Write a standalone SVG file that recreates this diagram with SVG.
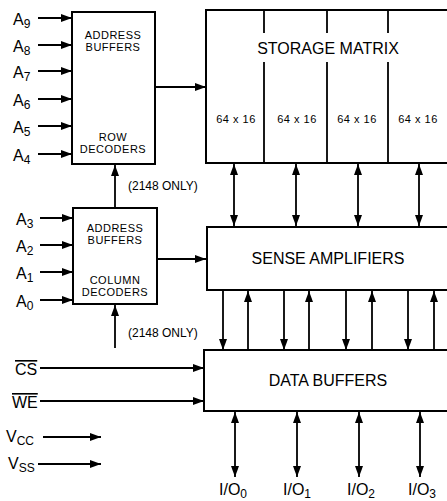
<svg xmlns="http://www.w3.org/2000/svg" width="447" height="501" viewBox="0 0 447 501">
<defs>
<marker id="ah" viewBox="0 0 11 8" refX="11" refY="4" markerWidth="11" markerHeight="8" markerUnits="userSpaceOnUse" orient="auto-start-reverse">
<path d="M0,0 L11,4 L0,8 Z" fill="#000"/>
</marker>
</defs>
<style>
.box{fill:#fff;stroke:#000;stroke-width:2}
.ln{stroke:#000;stroke-width:1.8;fill:none}
.a{marker-end:url(#ah)}
.b{marker-start:url(#ah);marker-end:url(#ah)}
text{font-family:"Liberation Sans",Arial,sans-serif;fill:#000}
.s{font-size:11px;letter-spacing:0.5px;text-anchor:middle}
.t{font-size:16px;text-anchor:middle}
.lab{font-size:16px}
.sub{font-size:12px}
</style>
<rect width="447" height="501" fill="#fff"/>
<g id="connectors">
<line class="ln a" x1="38" y1="18" x2="72" y2="18"/>
<line class="ln a" x1="38" y1="45" x2="72" y2="45"/>
<line class="ln a" x1="38" y1="71" x2="72" y2="71"/>
<line class="ln a" x1="38" y1="99" x2="72" y2="99"/>
<line class="ln a" x1="38" y1="126" x2="72" y2="126"/>
<line class="ln a" x1="38" y1="154" x2="72" y2="154"/>
<line class="ln a" x1="40" y1="218" x2="73" y2="218"/>
<line class="ln a" x1="40" y1="245" x2="73" y2="245"/>
<line class="ln a" x1="40" y1="272" x2="73" y2="272"/>
<line class="ln a" x1="40" y1="300" x2="73" y2="300"/>
<line class="ln a" x1="155" y1="87" x2="206" y2="87"/>
<line class="ln a" x1="157" y1="259" x2="206" y2="259"/>
<line class="ln a" x1="115" y1="208" x2="115" y2="165"/>
<line class="ln a" x1="115" y1="348" x2="115" y2="305"/>
<line class="ln b" x1="234" y1="164" x2="234" y2="226"/>
<line class="ln b" x1="296" y1="164" x2="296" y2="226"/>
<line class="ln b" x1="358" y1="164" x2="358" y2="226"/>
<line class="ln b" x1="419" y1="164" x2="419" y2="226"/>
<line class="ln a" x1="223" y1="291" x2="223" y2="350"/>
<line class="ln a" x1="284" y1="291" x2="284" y2="350"/>
<line class="ln a" x1="346" y1="291" x2="346" y2="350"/>
<line class="ln a" x1="408" y1="291" x2="408" y2="350"/>
<line class="ln a" x1="248" y1="350" x2="248" y2="291"/>
<line class="ln a" x1="309" y1="350" x2="309" y2="291"/>
<line class="ln a" x1="372" y1="350" x2="372" y2="291"/>
<line class="ln a" x1="434" y1="350" x2="434" y2="291"/>
<line class="ln a" x1="40" y1="368" x2="204" y2="368"/>
<line class="ln a" x1="40" y1="401" x2="204" y2="401"/>
<line class="ln a" x1="43" y1="437" x2="101" y2="437"/>
<line class="ln a" x1="38" y1="464" x2="101" y2="464"/>
<line class="ln b" x1="235" y1="412" x2="235" y2="477"/>
<line class="ln b" x1="297" y1="412" x2="297" y2="477"/>
<line class="ln b" x1="359" y1="412" x2="359" y2="477"/>
<line class="ln b" x1="420" y1="412" x2="420" y2="477"/>
</g>
<g id="row-decoder">
<rect class="box" x="72" y="12" width="83" height="152"/>
<text class="s" x="113" y="39">ADDRESS</text>
<text class="s" x="113" y="51">BUFFERS</text>
<text class="s" x="113" y="141">ROW</text>
<text class="s" x="113" y="153">DECODERS</text>
</g>
<g id="column-decoder">
<rect class="box" x="73" y="208" width="84" height="96"/>
<text class="s" x="115" y="232">ADDRESS</text>
<text class="s" x="115" y="244">BUFFERS</text>
<text class="s" x="115" y="284">COLUMN</text>
<text class="s" x="115" y="296">DECODERS</text>
</g>
<g id="storage-matrix">
<rect class="box" x="206" y="10" width="260" height="153"/>
<line class="ln" x1="264" y1="10" x2="264" y2="33"/>
<line class="ln" x1="264" y1="62" x2="264" y2="163"/>
<line class="ln" x1="327" y1="10" x2="327" y2="33"/>
<line class="ln" x1="327" y1="62" x2="327" y2="163"/>
<line class="ln" x1="388" y1="10" x2="388" y2="33"/>
<line class="ln" x1="388" y1="62" x2="388" y2="163"/>
<text class="t" x="328" y="54">STORAGE MATRIX</text>
<text class="s" x="236" y="123">64 x 16</text>
<text class="s" x="297" y="123">64 x 16</text>
<text class="s" x="357" y="123">64 x 16</text>
<text class="s" x="418" y="123">64 x 16</text>
</g>
<g id="sense-amplifiers">
<rect class="box" x="207" y="227" width="260" height="63"/>
<text class="t" x="328" y="264">SENSE AMPLIFIERS</text>
</g>
<g id="data-buffers">
<rect class="box" x="204" y="350" width="260" height="61"/>
<text class="t" x="328" y="386">DATA BUFFERS</text>
</g>
<g id="labels">
<text x="128" y="190" style="font-size:12px">(2148 ONLY)</text>
<text x="128" y="337" style="font-size:12px">(2148 ONLY)</text>
<text class="lab" x="13" y="25">A<tspan class="sub" dy="3">9</tspan></text>
<text class="lab" x="13" y="52">A<tspan class="sub" dy="3">8</tspan></text>
<text class="lab" x="13" y="78">A<tspan class="sub" dy="3">7</tspan></text>
<text class="lab" x="13" y="106">A<tspan class="sub" dy="3">6</tspan></text>
<text class="lab" x="13" y="133">A<tspan class="sub" dy="3">5</tspan></text>
<text class="lab" x="13" y="161">A<tspan class="sub" dy="3">4</tspan></text>
<text class="lab" x="16" y="225">A<tspan class="sub" dy="3">3</tspan></text>
<text class="lab" x="16" y="252">A<tspan class="sub" dy="3">2</tspan></text>
<text class="lab" x="16" y="279">A<tspan class="sub" dy="3">1</tspan></text>
<text class="lab" x="16" y="307">A<tspan class="sub" dy="3">0</tspan></text>
<text class="lab" x="15" y="375" style="text-decoration:overline">CS</text>
<text class="lab" x="12" y="408" style="text-decoration:overline">WE</text>
<text class="lab" x="6" y="442">V<tspan class="sub" dy="3">CC</tspan></text>
<text class="lab" x="8" y="469">V<tspan class="sub" dy="3">SS</tspan></text>
<text class="lab" x="219" y="495">I/O<tspan class="sub" dy="3">0</tspan></text>
<text class="lab" x="283" y="495">I/O<tspan class="sub" dy="3">1</tspan></text>
<text class="lab" x="347" y="495">I/O<tspan class="sub" dy="3">2</tspan></text>
<text class="lab" x="408" y="495">I/O<tspan class="sub" dy="3">3</tspan></text>
</g>
</svg>
